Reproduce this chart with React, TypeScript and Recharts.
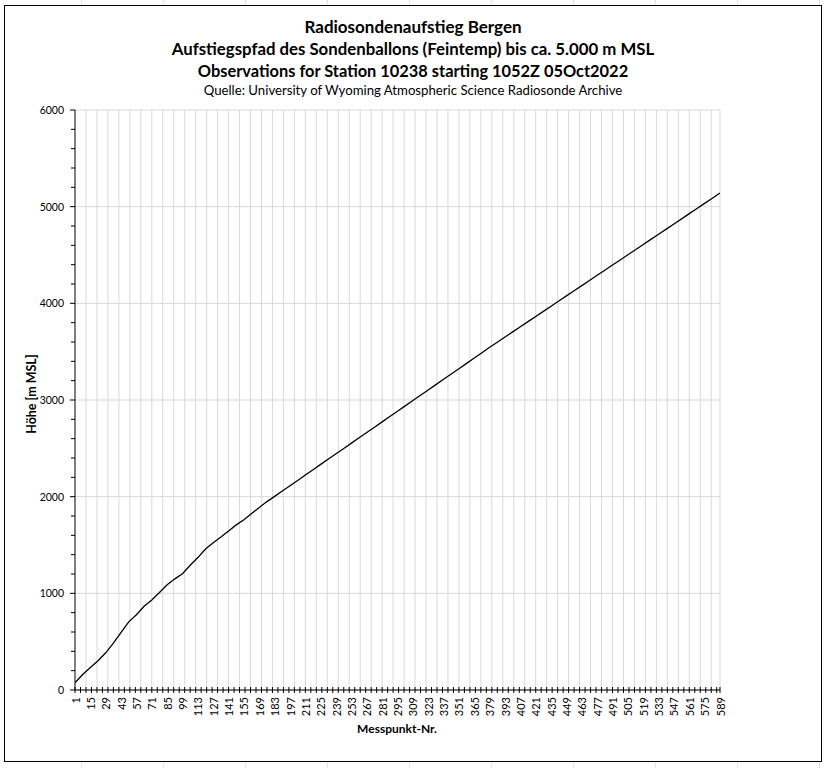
import React from 'react';
import { LineChart, Line, XAxis, YAxis, CartesianGrid } from 'recharts';

const messpunkt = [
  1, 8, 15, 22, 29, 36, 43, 50, 57, 64, 71, 78, 85, 92, 99, 106, 113, 120, 127, 134,
  141, 148, 155, 162, 169, 176, 183, 190, 197, 204, 211, 218, 225, 232, 239, 246, 253, 260, 267, 274,
  281, 288, 295, 302, 309, 316, 323, 330, 337, 344, 351, 358, 365, 372, 379, 386, 393, 400, 407, 414,
  421, 428, 435, 442, 449, 456, 463, 470, 477, 484, 491, 498, 505, 512, 519, 526, 533, 540, 547, 554,
  561, 568, 575, 582, 589,
];
const hoehe = [
  75, 160, 232, 303, 385, 485, 595, 705, 778, 866, 932, 1008, 1088, 1150, 1202, 1290, 1370, 1459, 1524, 1582,
  1645, 1708, 1761, 1826, 1887, 1949, 2003, 2058, 2113, 2168, 2224, 2279, 2334, 2389, 2444, 2499, 2554, 2609, 2664, 2719,
  2774, 2829, 2884, 2939, 2994, 3049, 3104, 3159, 3214, 3269, 3324, 3379, 3434, 3489, 3545, 3598, 3651, 3705, 3758, 3811,
  3864, 3917, 3970, 4024, 4077, 4130, 4183, 4236, 4290, 4343, 4396, 4449, 4502, 4555, 4609, 4662, 4715, 4768, 4821, 4874,
  4928, 4981, 5034, 5087, 5141,
];
const xLabels = [
  1, 15, 29, 43, 57, 71, 85, 99, 113, 127, 141, 155, 169, 183, 197, 211, 225, 239, 253, 267, 281, 295,
  309, 323, 337, 351, 365, 379, 393, 407, 421, 435, 449, 463, 477, 491, 505, 519, 533, 547, 561, 575, 589,
];
const yLabels = [0, 1000, 2000, 3000, 4000, 5000, 6000];

const titles = [
  'Radiosondenaufstieg Bergen',
  'Aufstiegspfad des Sondenballons (Feintemp) bis ca. 5.000 m MSL',
  'Observations for Station 10238 starting 1052Z 05Oct2022',
];
const source = 'Quelle: University of Wyoming Atmospheric Science Radiosonde Archive';

const data = messpunkt.map((m, i) => ({ m, h: hoehe[i] }));

const LAST = 589;
const xMarks: number[] = [];
for (let v = 1; v <= LAST; v += 5) xMarks.push(v);
if (!xMarks.includes(LAST)) xMarks.push(LAST);
const xTicks = Array.from(new Set([...xMarks, ...xLabels])).sort((a, b) => a - b);
const gridX: number[] = [];
for (let v = 11; v < LAST; v += 10) gridX.push(v);
gridX.push(LAST);
const yTicks: number[] = [];
for (let v = 0; v <= 6000; v += 200) yTicks.push(v);

const FONT = 'Lato, "Open Sans", sans-serif';

const XTick = (props: any) => {
  const { x, y, payload } = props;
  const v = payload.value;
  return (
    <g>
      {xMarks.includes(v) && <line x1={x} x2={x} y1={y - 3} y2={y + 3} stroke="#000" strokeWidth={1} />}
      {xLabels.includes(v) && (
        <text
          x={0}
          y={0}
          transform={`translate(${x},${y + 7}) rotate(-90)`}
          textAnchor="end"
          dominantBaseline="central"
          fontSize={11}
          fontFamily={FONT}
          fill="#000"
        >
          {v}
        </text>
      )}
    </g>
  );
};

const YTick = (props: any) => {
  const { x, y, payload } = props;
  const v = payload.value;
  const major = v % 1000 === 0;
  return (
    <g>
      <line x1={x - (major ? 5 : 4)} x2={x} y1={y} y2={y} stroke="#000" strokeWidth={1} />
      {major && (
        <text x={x - 11} y={y} textAnchor="end" dominantBaseline="central" fontSize={10.5} fontFamily={FONT} fill="#000">
          {v}
        </text>
      )}
    </g>
  );
};

const titleSizes = [17, 16.8, 16.4];

export default function App() {
  return (
    <div
      style={{
        position: 'absolute',
        left: 0,
        top: 0,
        width: 826,
        height: 768,
        overflow: 'hidden',
        background: '#fff',
        backgroundImage:
          'repeating-linear-gradient(90deg, transparent 0 81px, #e3e3e3 81px 82px, transparent 82px 78.5px)',
      }}
    >
      <div
        style={{
          position: 'absolute',
          left: 4,
          top: 5,
          width: 818,
          height: 757,
          boxSizing: 'border-box',
          border: '1.6px solid #000',
          background: '#fff',
        }}
      />
      {titles.map((t, i) => (
        <div
          key={t}
          style={{
            position: 'absolute',
            left: 0,
            width: 826,
            top: 16 + i * 22,
            textAlign: 'center',
            fontFamily: FONT,
            fontWeight: 700,
            fontSize: titleSizes[i],
            lineHeight: '22px',
            color: '#000',
          }}
        >
          {t}
        </div>
      ))}
      <div
        style={{
          position: 'absolute',
          left: 0,
          width: 826,
          top: 82,
          textAlign: 'center',
          fontFamily: FONT,
          fontSize: 13.2,
          lineHeight: '16px',
          color: '#000',
        }}
      >
        {source}
      </div>
      <div
        style={{
          position: 'absolute',
          left: 32 - 60,
          top: 394 - 8,
          width: 120,
          height: 16,
          lineHeight: '16px',
          textAlign: 'center',
          transform: 'rotate(-90deg)',
          fontFamily: FONT,
          fontWeight: 700,
          fontSize: 12.5,
          color: '#000',
        }}
      >
        Höhe [m MSL]
      </div>
      <div
        style={{
          position: 'absolute',
          left: 397 - 80,
          top: 721,
          width: 160,
          textAlign: 'center',
          lineHeight: '16px',
          fontFamily: FONT,
          fontWeight: 700,
          fontSize: 12,
          color: '#000',
        }}
      >
        Messpunkt-Nr.
      </div>
      <div style={{ position: 'absolute', left: 0, top: 0 }}>
        <LineChart width={826} height={768} data={data} margin={{ top: 110, right: 106, bottom: 38, left: 5 }}>
          <CartesianGrid
            stroke="#d9d9d9"
            strokeWidth={1}
            verticalValues={gridX}
            horizontalValues={yLabels}
          />
          <XAxis
            dataKey="m"
            type="number"
            domain={[1, LAST]}
            ticks={xTicks}
            interval={0}
            tick={<XTick />}
            tickLine={false}
            tickSize={0}
            tickMargin={0}
            axisLine={{ stroke: '#000', strokeWidth: 1 }}
            height={40}
            allowDataOverflow
          />
          <YAxis
            type="number"
            domain={[0, 6000]}
            ticks={yTicks}
            interval={0}
            tick={<YTick />}
            tickLine={false}
            tickSize={0}
            tickMargin={0}
            axisLine={{ stroke: '#000', strokeWidth: 1 }}
            width={70}
          />
          <Line
            type="linear"
            dataKey="h"
            stroke="#000"
            strokeWidth={1.3}
            dot={false}
            isAnimationActive={false}
          />
        </LineChart>
      </div>
    </div>
  );
}
